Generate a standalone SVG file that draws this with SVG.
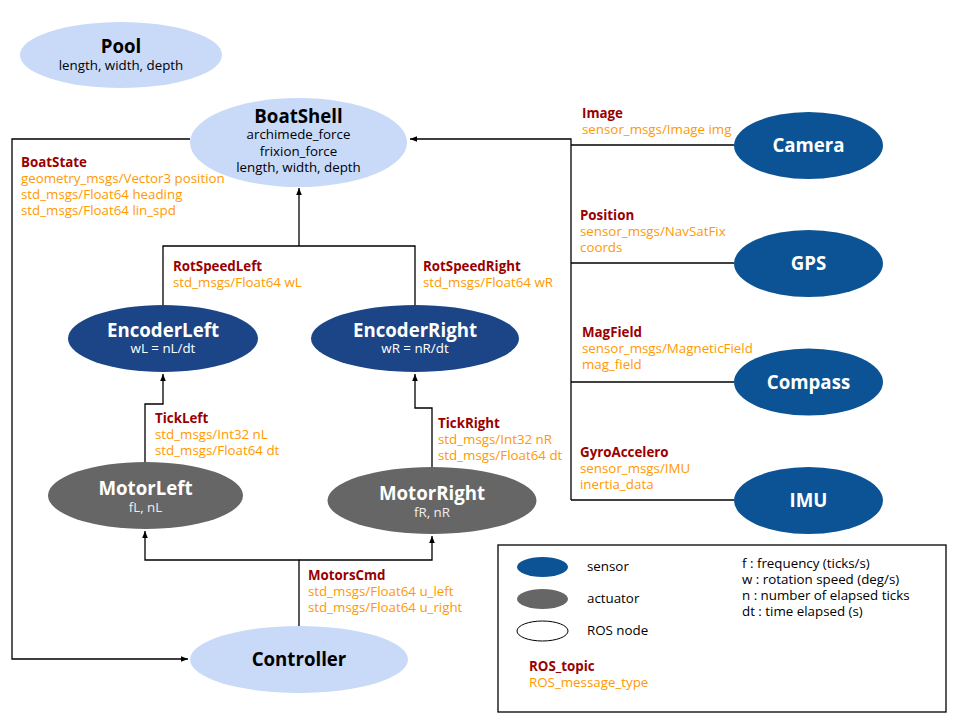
<svg xmlns="http://www.w3.org/2000/svg" width="960" height="720" viewBox="0 0 960 720">
<style>
text{font-family:"Open Sans","Noto Sans","Liberation Sans",sans-serif;font-size:13.33px}
.t{font-weight:bold;font-size:18.67px}
.c{text-anchor:middle}
.w{fill:#ffffff}
.g{fill:#eeeeee}
.topic{fill:#990000;font-weight:bold}
.msg{fill:#ff9900}
.light{fill:#c9daf8}
.sensor{fill:#0b5394}
.enc{fill:#1c4587}
.act{fill:#666666}
.ln{fill:none;stroke:#000;stroke-width:1.3}
</style>
<defs>
<marker id="ah" viewBox="0 0 10 10" refX="10" refY="5" markerWidth="7" markerHeight="7" markerUnits="userSpaceOnUse" orient="auto">
<path d="M0,1 L10,5 L0,9 z" fill="#000"/>
</marker>
</defs>
<rect width="960" height="720" fill="#fff"/>

<g id="connectors">
<path class="ln" d="M190,139 H12 V659 H188" marker-end="url(#ah)"/>
<path class="ln" d="M571,145 H734"/>
<path class="ln" d="M571,263 H734"/>
<path class="ln" d="M571,382 H734"/>
<path class="ln" d="M571,500 H734"/>
<path class="ln" d="M571,500 V139 H410" marker-end="url(#ah)"/>
<path class="ln" d="M163,305 V246 H415 V305"/>
<path class="ln" d="M299,246 V188" marker-end="url(#ah)"/>
<path class="ln" d="M145,462 V404 H163 V374" marker-end="url(#ah)"/>
<path class="ln" d="M432,467 V408 H415 V374" marker-end="url(#ah)"/>
<path class="ln" d="M299,626 V560 H145 V531" marker-end="url(#ah)"/>
<path class="ln" d="M299,560 H432 V536" marker-end="url(#ah)"/>
</g>

<g id="labels">
<text x="21" y="167" class="topic">BoatState</text>
<text x="21" y="183" class="msg">geometry_msgs/Vector3 position</text>
<text x="21" y="199" class="msg">std_msgs/Float64 heading</text>
<text x="21" y="215" class="msg">std_msgs/Float64 lin_spd</text>
<text x="582" y="118" class="topic">Image</text>
<text x="582" y="134" class="msg">sensor_msgs/Image img</text>
<text x="580" y="220" class="topic">Position</text>
<text x="580" y="236" class="msg">sensor_msgs/NavSatFix</text>
<text x="580" y="252" class="msg">coords</text>
<text x="582" y="337" class="topic">MagField</text>
<text x="582" y="353" class="msg">sensor_msgs/MagneticField</text>
<text x="582" y="369" class="msg">mag_field</text>
<text x="580" y="457" class="topic">GyroAccelero</text>
<text x="580" y="473" class="msg">sensor_msgs/IMU</text>
<text x="580" y="489" class="msg">inertia_data</text>
<text x="173" y="271" class="topic">RotSpeedLeft</text>
<text x="173" y="287" class="msg">std_msgs/Float64 wL</text>
<text x="423" y="271" class="topic">RotSpeedRight</text>
<text x="423" y="287" class="msg">std_msgs/Float64 wR</text>
<text x="155" y="423" class="topic">TickLeft</text>
<text x="155" y="439" class="msg">std_msgs/Int32 nL</text>
<text x="155" y="455" class="msg">std_msgs/Float64 dt</text>
<text x="438" y="428" class="topic">TickRight</text>
<text x="438" y="444" class="msg">std_msgs/Int32 nR</text>
<text x="438" y="460" class="msg">std_msgs/Float64 dt</text>
<text x="308" y="580" class="topic">MotorsCmd</text>
<text x="308" y="596" class="msg">std_msgs/Float64 u_left</text>
<text x="308" y="612" class="msg">std_msgs/Float64 u_right</text>
</g>

<g id="Pool">
<ellipse cx="121" cy="55" rx="101" ry="33" class="light"/>
<text x="121" y="53" class="t c">Pool</text>
<text x="121" y="70" class="c">length, width, depth</text>
</g>

<g id="BoatShell">
<ellipse cx="298.5" cy="142.5" rx="108.5" ry="44.5" class="light"/>
<text x="298.5" y="123" class="t c">BoatShell</text>
<text x="298.5" y="139" class="c">archimede_force</text>
<text x="298.5" y="156" class="c">frixion_force</text>
<text x="298.5" y="172" class="c">length, width, depth</text>
</g>

<g id="Camera">
<ellipse cx="808.5" cy="145.5" rx="74.5" ry="33.5" class="sensor"/>
<text x="808.5" y="152" class="t c w">Camera</text>
</g>
<g id="GPS">
<ellipse cx="808.5" cy="263.5" rx="74.5" ry="33.5" class="sensor"/>
<text x="808.5" y="270" class="t c w">GPS</text>
</g>
<g id="Compass">
<ellipse cx="808.5" cy="382" rx="74.5" ry="33.5" class="sensor"/>
<text x="808.5" y="388.5" class="t c w">Compass</text>
</g>
<g id="IMU">
<ellipse cx="808.5" cy="500.5" rx="74.5" ry="33.5" class="sensor"/>
<text x="808.5" y="507" class="t c w">IMU</text>
</g>

<g id="EncoderLeft">
<ellipse cx="163" cy="338.5" rx="95" ry="33.5" class="enc"/>
<text x="163" y="337" class="t c w">EncoderLeft</text>
<text x="163" y="353" class="c w">wL = nL/dt</text>
</g>
<g id="EncoderRight">
<ellipse cx="415" cy="338.5" rx="104" ry="33.5" class="enc"/>
<text x="415" y="337" class="t c w">EncoderRight</text>
<text x="415" y="353" class="c w">wR = nR/dt</text>
</g>

<g id="MotorLeft">
<ellipse cx="145.5" cy="495.5" rx="97.5" ry="33.5" class="act"/>
<text x="145.5" y="495" class="t c w">MotorLeft</text>
<text x="145.5" y="512" class="c g">fL, nL</text>
</g>
<g id="MotorRight">
<ellipse cx="432" cy="500.5" rx="104.5" ry="33.5" class="act"/>
<text x="432" y="500" class="t c w">MotorRight</text>
<text x="432" y="517" class="c g">fR, nR</text>
</g>

<g id="Controller">
<ellipse cx="299" cy="659.5" rx="109" ry="33.5" class="light"/>
<text x="299" y="666" class="t c">Controller</text>
</g>

<g id="legend">
<rect x="498" y="545" width="448" height="167" fill="none" stroke="#000" stroke-width="1.3"/>
<ellipse cx="542.5" cy="567" rx="25.5" ry="10" class="sensor"/>
<ellipse cx="542.5" cy="599" rx="25.5" ry="10" class="act"/>
<ellipse cx="542.5" cy="631" rx="25.5" ry="10" fill="#fff" stroke="#000" stroke-width="1"/>
<text x="587" y="571">sensor</text>
<text x="587" y="603">actuator</text>
<text x="587" y="635">ROS node</text>
<text x="529" y="671" class="topic">ROS_topic</text>
<text x="529" y="687" class="msg">ROS_message_type</text>
<text x="742" y="568">f : frequency (ticks/s)</text>
<text x="742" y="584">w : rotation speed (deg/s)</text>
<text x="742" y="600">n : number of elapsed ticks</text>
<text x="742" y="616">dt : time elapsed (s)</text>
</g>
</svg>
